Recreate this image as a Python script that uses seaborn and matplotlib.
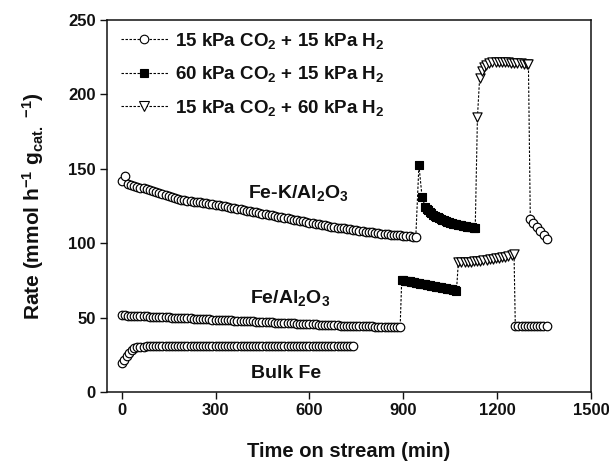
import numpy as np
import pandas as pd
import matplotlib
matplotlib.use("Agg")
import matplotlib.pyplot as plt
from matplotlib.lines import Line2D
import seaborn as sns

# ---------------- data ----------------
# Fe-K/Al2O3
fek_c1_t = np.arange(0, 950, 10)
fek_c1_r = [141.5, 145.0, 139.5, 139.0, 138.5, 138.0, 137.4, 136.8, 136.2, 135.6,
            135.0, 134.3, 133.6, 132.9, 132.2, 131.5, 130.9, 130.3, 129.7, 129.2,
            128.9, 128.6, 128.3, 128.0, 127.7, 127.4, 127.1, 126.8, 126.5, 126.2,
            125.9, 125.5, 125.1, 124.7, 124.3, 123.9, 123.5, 123.1, 122.7, 122.3,
            121.9, 121.5, 121.1, 120.7, 120.3, 119.9, 119.5, 119.1, 118.7, 118.3,
            117.9, 117.5, 117.1, 116.7, 116.3, 115.9, 115.5, 115.1, 114.7, 114.3,
            113.9, 113.5, 113.1, 112.7, 112.3, 111.9, 111.5, 111.1, 110.8, 110.5,
            110.2, 109.9, 109.6, 109.3, 109.0, 108.7, 108.4, 108.1, 107.8, 107.5,
            107.3, 107.0, 106.8, 106.5, 106.3, 106.0, 105.8, 105.6, 105.4, 105.2,
            105.0, 104.8, 104.6, 104.4, 104.2]
fek_c2_t = [950, 960] + list(range(970, 1135, 5))
fek_c2_r = [152.5, 131.0,
            124.5, 123.2, 122.0, 121.0, 120.0, 119.2, 118.5, 117.9, 117.3, 116.7,
            116.2, 115.7, 115.3, 114.9, 114.5, 114.1, 113.8, 113.5, 113.2, 112.9,
            112.6, 112.3, 112.1, 111.9, 111.7, 111.5, 111.3, 111.1, 111.0, 110.8,
            110.7, 110.5, 110.4]
fek_c3_t = [1137, 1144, 1151, 1158, 1165, 1175, 1185, 1195, 1205, 1215,
            1225, 1235, 1245, 1255, 1265, 1275, 1285, 1295, 1300]
fek_c3_r = [184.5, 211.0, 215.5, 218.5, 220.0, 221.0, 221.5, 222.0, 222.0, 222.0,
            221.8, 221.6, 221.4, 221.2, 221.0, 220.8, 220.6, 220.4, 220.2]
fek_c1b_t = [1306, 1316, 1327, 1338, 1349, 1360]
fek_c1b_r = [116.3, 113.4, 110.8, 108.0, 105.4, 102.7]

# Fe/Al2O3
fe_c1_t = np.arange(0, 900, 10)
fe_c1_r = [51.8, 51.6, 51.4, 51.3, 51.2, 51.1, 51.0, 50.9, 50.8, 50.7,
           50.6, 50.5, 50.4, 50.3, 50.2, 50.1, 50.0, 49.9, 49.8, 49.7,
           49.6, 49.5, 49.4, 49.3, 49.2, 49.1, 49.0, 48.9, 48.8, 48.7,
           48.6, 48.5, 48.4, 48.3, 48.2, 48.1, 48.0, 47.9, 47.8, 47.7,
           47.6, 47.5, 47.4, 47.3, 47.2, 47.1, 47.0, 46.9, 46.8, 46.7,
           46.6, 46.5, 46.4, 46.3, 46.2, 46.1, 46.0, 45.9, 45.8, 45.7,
           45.6, 45.5, 45.4, 45.3, 45.2, 45.1, 45.0, 44.9, 44.8, 44.7,
           44.6, 44.5, 44.5, 44.4, 44.4, 44.3, 44.3, 44.2, 44.2, 44.1,
           44.1, 44.0, 44.0, 44.0, 43.9, 43.9, 43.9, 43.9, 43.9, 43.9]
fe_c2_t = list(range(895, 1075, 5))
fe_c2_r = [75.3, 75.1, 74.9, 74.7, 74.5, 74.3, 74.1, 73.9, 73.7, 73.5,
           73.3, 73.1, 72.9, 72.7, 72.5, 72.3, 72.1, 71.9, 71.7, 71.5,
           71.3, 71.1, 70.9, 70.7, 70.5, 70.3, 70.1, 69.9, 69.7, 69.5,
           69.3, 69.1, 68.9, 68.6, 68.3, 68.0]
fe_c3_t = [1076, 1086, 1096, 1106, 1116, 1126, 1136, 1146, 1156, 1166,
           1176, 1186, 1196, 1206, 1216, 1226, 1236, 1246, 1254]
fe_c3_r = [87.2, 87.3, 87.4, 87.5, 87.7, 87.9, 88.1, 88.3, 88.5, 88.8,
           89.1, 89.4, 89.8, 90.2, 90.6, 91.0, 91.5, 92.0, 93.0]
fe_c1b_t = [1258, 1268, 1278, 1288, 1298, 1308, 1318, 1328, 1338, 1348, 1358]
fe_c1b_r = [44.6, 44.6, 44.6, 44.6, 44.6, 44.6, 44.6, 44.6, 44.6, 44.6, 44.6]

# Bulk Fe
bulk_t = [0, 8, 16, 24, 32, 40, 50] + list(range(60, 750, 10))
bulk_r = [19.3, 21.5, 24.0, 26.5, 28.5, 29.8, 30.4,
          30.5, 30.5, 30.6, 30.6, 30.6, 30.6, 30.6, 30.6, 30.6, 30.6,
          30.6, 30.6, 30.6, 30.6, 30.6, 30.6, 30.6, 30.6, 30.6, 30.6,
          30.6, 30.6, 30.6, 30.6, 30.6, 30.6, 30.6, 30.6, 30.6, 30.6,
          30.6, 30.6, 30.6, 30.6, 30.6, 30.6, 30.6, 30.6, 30.6, 30.6,
          30.6, 30.6, 30.6, 30.6, 30.6, 30.6, 30.6, 30.6, 30.6, 30.6,
          30.6, 30.6, 30.6, 30.6, 30.6, 30.6, 30.6, 30.6, 30.6, 30.6,
          30.6, 30.6, 30.6, 30.6, 30.6, 30.6, 30.6, 30.6, 30.6]

conditions = [r"15 kPa CO$_2$ + 15 kPa H$_2$",
              r"60 kPa CO$_2$ + 15 kPa H$_2$",
              r"15 kPa CO$_2$ + 60 kPa H$_2$"]
catalyst_labels = [r"Fe-K/Al$_2$O$_3$", r"Fe/Al$_2$O$_3$", "Bulk Fe"]
x_ticks = [0, 300, 600, 900, 1200, 1500]
y_ticks = [0, 50, 100, 150, 200, 250]

# ---------------- build table ----------------
segments = [
    ("FeK", 0, fek_c1_t, fek_c1_r), ("FeK", 1, fek_c2_t, fek_c2_r),
    ("FeK", 2, fek_c3_t, fek_c3_r), ("FeK", 0, fek_c1b_t, fek_c1b_r),
    ("Fe", 0, fe_c1_t, fe_c1_r), ("Fe", 1, fe_c2_t, fe_c2_r),
    ("Fe", 2, fe_c3_t, fe_c3_r), ("Fe", 0, fe_c1b_t, fe_c1b_r),
    ("Bulk", 0, bulk_t, bulk_r),
]
rows = []
for seg_id, (cat, cond, tt, rr) in enumerate(segments):
    assert len(tt) == len(rr), (cat, cond, len(tt), len(rr))
    for t, r in zip(tt, rr):
        rows.append({"time": float(t), "rate": float(r), "cat": cat,
                     "cond": cond, "seg": seg_id})
df = pd.DataFrame(rows)

# ---------------- style ----------------
sns.set_theme(style="ticks")
plt.rcParams.update({
    "font.family": ["Liberation Sans", "DejaVu Sans"],
    "font.weight": "bold",
    "axes.labelweight": "bold",
    "text.color": "#111111",
    "axes.labelcolor": "#111111",
    "xtick.color": "#111111",
    "ytick.color": "#111111",
    "axes.edgecolor": "#111111",
    "mathtext.fontset": "custom",
    "mathtext.rm": "Liberation Sans:bold",
    "mathtext.it": "Liberation Sans:bold",
    "mathtext.bf": "Liberation Sans:bold",
    "mathtext.sf": "Liberation Sans:bold",
    "mathtext.default": "rm",
})

fig = plt.figure(figsize=(6.09, 4.61), dpi=100)
ax = fig.add_axes([107 / 609, 1 - 392 / 461, (591 - 107) / 609, (392 - 20) / 461])

dash = (0, (2.2, 1.4))
for cat in ["FeK", "Fe", "Bulk"]:
    sub = df[df["cat"] == cat]
    sns.lineplot(data=sub, x="time", y="rate", sort=False, estimator=None,
                 color="black", linewidth=0.8, linestyle=dash, ax=ax, zorder=2)

marker_kw = {
    0: dict(marker="o", s=38, color="white", edgecolor="black", linewidth=0.85),
    1: dict(marker="s", s=32, color="black", edgecolor="black", linewidth=0.8),
    2: dict(marker="v", s=44, color="white", edgecolor="black", linewidth=0.85),
}
for seg_id, (cat, cond, tt, rr) in enumerate(segments):
    sub = df[df["seg"] == seg_id]
    sns.scatterplot(data=sub, x="time", y="rate", ax=ax, zorder=3, legend=False,
                    **marker_kw[cond])

ax.set_xlim(-47, 1500)
ax.set_ylim(0, 250)
ax.set_xticks(x_ticks)
ax.set_yticks(y_ticks)
ax.tick_params(direction="out", length=5, width=1.0, labelsize=12, top=False, right=False,
               pad=3)
for lab in ax.get_xticklabels() + ax.get_yticklabels():
    lab.set_fontweight("bold")
for s in ax.spines.values():
    s.set_visible(True)
    s.set_linewidth(1.1)

ax.set_xlabel("Time on stream (min)", fontsize=14.5, fontweight="bold", labelpad=17)
ax.set_ylabel(r"Rate (mmol h$^{-1}$ g$_{cat.}$ $^{-1}$)", fontsize=15, fontweight="bold",
              labelpad=16)

ax.text(565, 130.3, catalyst_labels[0], ha="center", va="baseline", fontsize=14)
ax.text(539, 60.1, catalyst_labels[1], ha="center", va="baseline", fontsize=14)
ax.text(526, 9.2, catalyst_labels[2], ha="center", va="baseline", fontsize=14)

handles = []
for cond in range(3):
    kw = marker_kw[cond]
    handles.append(Line2D([], [], color="black", linewidth=0.8, linestyle=dash,
                          marker=kw["marker"], markersize=np.sqrt(kw["s"]),
                          markerfacecolor=kw["color"], markeredgecolor="black",
                          markeredgewidth=0.8))
leg = ax.legend(handles, conditions, loc="upper left",
                bbox_to_anchor=(14 / 484, 1 - 11 / 372), frameon=False,
                fontsize=13.5, handlelength=2.5, handletextpad=0.4,
                labelspacing=0.72, borderpad=0, borderaxespad=0)

fig.savefig("out.png", dpi=100)
